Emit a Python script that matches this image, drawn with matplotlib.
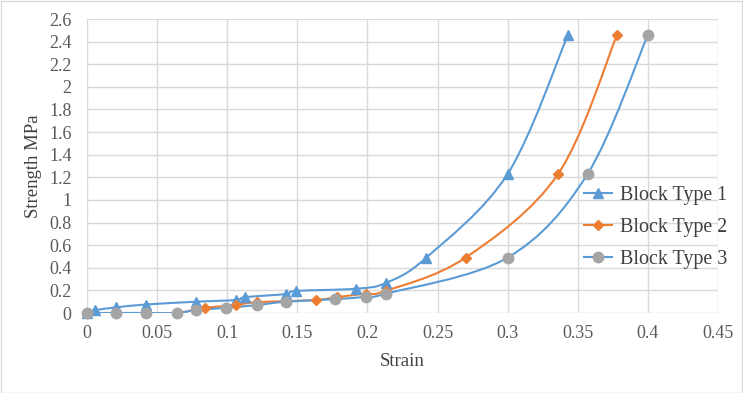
import numpy as np
import matplotlib
matplotlib.use("Agg")
import matplotlib.pyplot as plt
from matplotlib.path import Path
from matplotlib.patches import PathPatch, Rectangle
from matplotlib.lines import Line2D

plt.rcParams['font.family'] = ['Liberation Serif', 'DejaVu Serif']

series_names = ["Block Type 1", "Block Type 2", "Block Type 3"]

t1_strain = [0, 0.006, 0.021, 0.042, 0.078, 0.106, 0.113, 0.142, 0.149, 0.192, 0.213, 0.242, 0.300, 0.343]
t1_stress = [0, 0.025, 0.05, 0.075, 0.10, 0.115, 0.14, 0.168, 0.195, 0.215, 0.265, 0.49, 1.23, 2.46]

t2_strain = [0, 0.021, 0.042, 0.064, 0.084, 0.106, 0.121, 0.163, 0.178, 0.199, 0.213, 0.270, 0.336, 0.378]
t2_stress = [0, 0, 0, 0, 0.045, 0.07, 0.095, 0.115, 0.14, 0.172, 0.195, 0.49, 1.23, 2.46]

t3_strain = [0, 0.021, 0.042, 0.064, 0.078, 0.099, 0.121, 0.142, 0.177, 0.199, 0.213, 0.300, 0.357, 0.400]
t3_stress = [0, 0, 0, 0, 0.027, 0.045, 0.07, 0.10, 0.122, 0.144, 0.17, 0.49, 1.23, 2.46]

x_ticks = [0, 0.05, 0.1, 0.15, 0.2, 0.25, 0.3, 0.35, 0.4, 0.45]
x_tick_labels = ["0", "0.05", "0.1", "0.15", "0.2", "0.25", "0.3", "0.35", "0.4", "0.45"]
y_ticks = [round(0.2 * i, 1) for i in range(14)]
y_tick_labels = ["0"] + ["%g" % v for v in y_ticks[1:]]

BLUE = "#5B9BD5"
ORANGE = "#ED7D31"
GREY = "#A5A5A5"


def smooth_path(xs, ys):
    pts = np.column_stack([xs, ys]).astype(float)
    n = len(pts)
    verts = [pts[0]]
    codes = [Path.MOVETO]
    for i in range(n - 1):
        p0 = pts[i - 1] if i > 0 else pts[i]
        p1 = pts[i]
        p2 = pts[i + 1]
        p3 = pts[i + 2] if i + 2 < n else pts[i + 1]
        c1 = p1 + (p2 - p0) / 6.0
        c2 = p2 - (p3 - p1) / 6.0
        verts += [c1, c2, p2]
        codes += [Path.CURVE4] * 3
    return Path(verts, codes)


fig = plt.figure(figsize=(7.43, 3.93), dpi=100)
fig.patches.append(Rectangle((0.001, 0.001), 0.998, 0.997, transform=fig.transFigure,
                             fill=False, edgecolor="#D9D9D9", linewidth=1.0))
ax = fig.add_axes([87 / 743, 1 - 313 / 393, (718 - 87) / 743, (313 - 19) / 393])

series = [
    (t1_strain, t1_stress, BLUE, BLUE, "^", 7),
    (t2_strain, t2_stress, ORANGE, ORANGE, "D", 5),
    (t3_strain, t3_stress, BLUE, GREY, "o", 7.5),
]
handles = []
for (xs, ys, lc, mc, mk, ms), name in zip(series, series_names):
    ax.add_patch(PathPatch(smooth_path(xs, ys), fill=False, edgecolor=lc, linewidth=1.5, zorder=3))
    ax.plot(xs, ys, linestyle="none", marker=mk, markersize=ms, color=mc,
            markeredgecolor=mc, zorder=4, clip_on=False)
    handles.append(Line2D([0], [0], color=lc, linewidth=1.5, marker=mk, markersize=ms,
                          markerfacecolor=mc, markeredgecolor=mc))

ax.set_xlim(0, 0.45)
ax.set_ylim(0, 2.6)
ax.set_xticks(x_ticks)
ax.set_xticklabels(x_tick_labels)
ax.set_yticks(y_ticks)
ax.set_yticklabels(y_tick_labels)
ax.grid(True, color="#D9D9D9", linewidth=1.0)
ax.set_axisbelow(True)
for s in ax.spines.values():
    s.set_visible(False)
ax.tick_params(length=0, labelsize=13, colors="#595959")
ax.tick_params(axis="y", pad=11)
ax.tick_params(axis="x", pad=9)
ax.set_xlabel("Strain", fontsize=13.5, color="#404040")
ax.set_ylabel("Strength MPa", fontsize=13.5, color="#404040")
ax.xaxis.set_label_coords(0.5, (313 - 362) / 294, transform=ax.transAxes)
ax.yaxis.set_label_coords((33 - 87) / 631, 0.5, transform=ax.transAxes)
ax.xaxis.label.set_va("center")
ax.yaxis.label.set_va("center")

leg = ax.legend(handles, series_names, loc="upper left", bbox_to_anchor=(566 / 743, 1 - 168 / 393),
                bbox_transform=fig.transFigure, frameon=False, fontsize=14.4,
                labelspacing=0.65, handlelength=1.4, handletextpad=0.4, labelcolor="#404040")

fig.savefig("out.png", dpi=100)
